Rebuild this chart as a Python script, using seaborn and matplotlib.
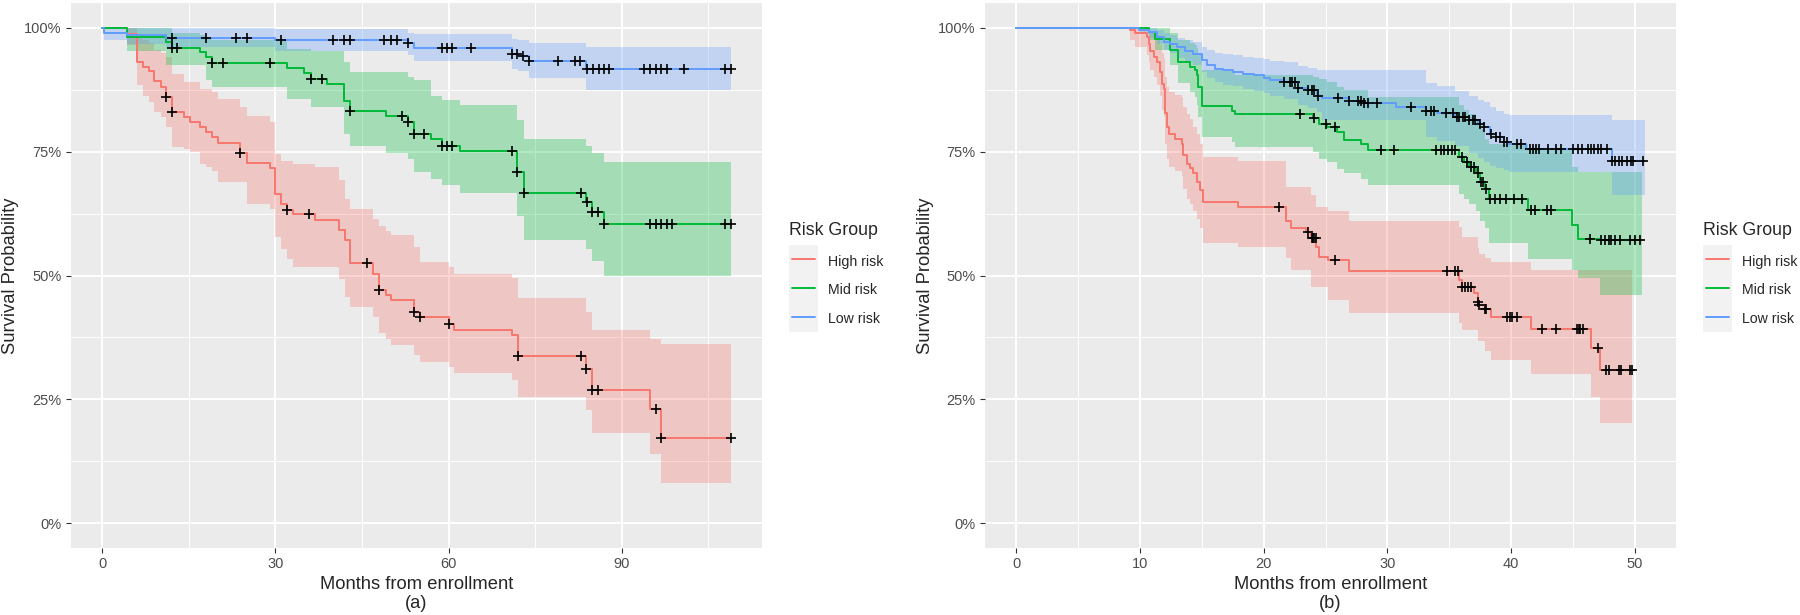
import numpy as np
import pandas as pd
import matplotlib
matplotlib.use("Agg")
import matplotlib.pyplot as plt
import seaborn as sns
from matplotlib.ticker import FixedLocator
from matplotlib.lines import Line2D
from matplotlib.patches import Rectangle

sns.set_theme(style="darkgrid")
plt.rcParams["font.family"] = ["Liberation Sans", "DejaVu Sans"]

groups = ["High risk", "Mid risk", "Low risk"]
colors = ["#F8766D", "#00BA38", "#619CFF"]
legend_title = "Risk Group"
y_label = "Survival Probability"
x_label = "Months from enrollment"
y_ticks = [0, 0.25, 0.5, 0.75, 1.0]
y_tick_labels = ["0%", "25%", "50%", "75%", "100%"]
y_minor = [0.125, 0.375, 0.625, 0.875]

# ---------------- Panel (a) ----------------
a_xticks = [0, 30, 60, 90]
a_xminor = [15, 45, 75, 105]
a_end = 108.9

a_high_t = [0, 4.2, 6.0, 7.05, 8.0, 9.0, 10.1, 11.0, 12.1, 14.1, 15.1, 17.0, 18.0, 19.0, 20.05, 23.9, 25.1, 29.0, 30.0, 31.0,
            32.0, 33.1, 36.9, 41.0, 42.0, 43.0, 46.9, 47.9, 49.1, 50.1, 54.0, 55.0, 60.0, 61.0, 71.0, 72.0, 83.9, 84.9, 94.9, 96.9]
a_high_s = [1.0, 0.988, 0.931, 0.920, 0.912, 0.892, 0.880, 0.860, 0.830, 0.820, 0.809, 0.799, 0.789, 0.779, 0.768, 0.747, 0.727, 0.717, 0.665, 0.645,
            0.633, 0.625, 0.612, 0.591, 0.571, 0.526, 0.503, 0.471, 0.460, 0.450, 0.426, 0.416, 0.402, 0.391, 0.379, 0.338, 0.312, 0.268, 0.230, 0.172]
a_high_lo = [1.0, 0.965, 0.884, 0.863, 0.850, 0.830, 0.820, 0.800, 0.759, 0.755, 0.749, 0.725, 0.720, 0.710, 0.688, 0.688, 0.645, 0.635, 0.577, 0.554,
             0.534, 0.517, 0.517, 0.493, 0.457, 0.436, 0.416, 0.383, 0.371, 0.359, 0.339, 0.326, 0.315, 0.303, 0.290, 0.254, 0.228, 0.182, 0.140, 0.081]
a_high_hi = [1.0, 1.0, 0.980, 0.975, 0.970, 0.955, 0.950, 0.941, 0.907, 0.890, 0.890, 0.877, 0.877, 0.870, 0.857, 0.840, 0.821, 0.810, 0.746, 0.732,
             0.732, 0.725, 0.719, 0.692, 0.655, 0.635, 0.614, 0.600, 0.590, 0.581, 0.557, 0.527, 0.517, 0.503, 0.495, 0.454, 0.426, 0.390, 0.372, 0.362]
a_high_cens = [11.0, 12.1, 23.9, 32.0, 35.9, 45.9, 47.9, 54.0, 55.0, 60.0, 72.0, 82.9, 83.9, 84.9, 85.9, 95.9, 96.9, 108.9]

a_mid_t = [0, 4.2, 11.0, 12.1, 17.0, 18.0, 19.0, 32.0, 35.0, 36.1, 39.0, 41.8, 42.9, 49.1, 52.9, 54.0, 56.9, 58.9, 62.0, 71.9, 73.0, 83.8, 84.9, 86.9]
a_mid_s = [1.0, 0.981, 0.971, 0.960, 0.951, 0.942, 0.929, 0.918, 0.908, 0.897, 0.887, 0.853, 0.832, 0.821, 0.809, 0.786, 0.776, 0.762, 0.751, 0.709, 0.666, 0.648, 0.628, 0.603]
a_mid_lo = [1.0, 0.953, 0.924, 0.924, 0.924, 0.894, 0.880, 0.857, 0.857, 0.840, 0.840, 0.786, 0.761, 0.748, 0.735, 0.709, 0.695, 0.682, 0.666, 0.621, 0.572, 0.554, 0.530, 0.499]
a_mid_hi = [1.0, 1.0, 1.0, 0.990, 0.985, 0.980, 0.975, 0.958, 0.958, 0.953, 0.953, 0.930, 0.910, 0.910, 0.900, 0.894, 0.863, 0.855, 0.845, 0.813, 0.776, 0.762, 0.747, 0.730]
a_mid_cens = [12.1, 12.9, 19.0, 20.9, 29.0, 36.1, 38.1, 42.9, 52.0, 52.9, 54.0, 55.8, 58.9, 59.8, 60.6, 71.0, 71.9, 73.0, 82.9, 84.0,
              84.9, 85.9, 86.9, 94.9, 95.9, 96.9, 97.8, 98.8, 108.0, 108.9]

a_low_t = [0, 0.3, 4.2, 11.0, 30.0, 52.9, 54.0, 71.0, 72.1, 73.9, 83.8]
a_low_s = [1.0, 0.990, 0.986, 0.980, 0.975, 0.969, 0.960, 0.947, 0.943, 0.933, 0.916]
a_low_lo = [1.0, 0.975, 0.968, 0.962, 0.954, 0.945, 0.932, 0.917, 0.912, 0.898, 0.875]
a_low_hi = [1.0, 1.0, 1.0, 1.0, 0.997, 0.990, 0.988, 0.978, 0.975, 0.970, 0.961]
a_low_cens = [12.1, 18.0, 23.1, 25.0, 31.0, 39.9, 41.8, 42.9, 48.9, 50.0, 51.0, 52.9, 58.9, 59.8, 60.6, 63.9, 71.0, 71.9, 72.9, 73.9,
              79.0, 81.9, 82.8, 84.0, 85.1, 86.1, 86.9, 87.8, 93.9, 94.9, 95.9, 96.9, 97.8, 100.9, 108.0, 108.9]

# ---------------- Panel (b) ----------------
b_xticks = [0, 10, 20, 30, 40, 50]
b_xminor = [5, 15, 25, 35, 45]
b_high_end = 49.8
b_mid_end = 50.6
b_low_end = 50.8

b_high_t = [0, 9.2, 9.6, 10.55, 10.7, 10.8, 11.1, 11.4, 11.6, 11.75, 11.9, 12.0, 12.2, 12.3, 12.8, 13.4, 13.5, 13.8, 14.05, 14.3, 14.6,
            14.85, 15.1, 17.9, 21.8, 22.2, 23.45, 23.85, 24.25, 24.5, 25.2, 26.9, 35.8, 36.0, 37.0, 37.3, 37.4, 37.9, 38.4, 41.6, 46.5, 47.2]
b_high_s = [1.0, 0.996, 0.990, 0.981, 0.968, 0.954, 0.941, 0.931, 0.911, 0.887, 0.877, 0.827, 0.800, 0.786, 0.776, 0.766, 0.743, 0.726, 0.716, 0.706, 0.689,
            0.672, 0.648, 0.638, 0.611, 0.595, 0.588, 0.575, 0.558, 0.538, 0.531, 0.509, 0.491, 0.477, 0.464, 0.447, 0.440, 0.433, 0.417, 0.393, 0.353, 0.309]
b_high_lo = [1.0, 0.975, 0.961, 0.945, 0.930, 0.915, 0.900, 0.885, 0.862, 0.835, 0.820, 0.765, 0.735, 0.720, 0.710, 0.700, 0.675, 0.655, 0.645, 0.630, 0.615,
             0.595, 0.565, 0.558, 0.535, 0.511, 0.511, 0.477, 0.477, 0.477, 0.450, 0.425, 0.405, 0.391, 0.391, 0.368, 0.368, 0.347, 0.329, 0.302, 0.254, 0.203]
b_high_hi = [1.0, 1.0, 1.0, 1.0, 0.995, 0.990, 0.985, 0.980, 0.965, 0.950, 0.940, 0.900, 0.880, 0.870, 0.865, 0.860, 0.840, 0.825, 0.815, 0.800, 0.785,
             0.765, 0.739, 0.731, 0.679, 0.679, 0.679, 0.662, 0.638, 0.638, 0.630, 0.611, 0.597, 0.577, 0.577, 0.555, 0.544, 0.535, 0.527, 0.511, 0.511, 0.511]
b_high_cens = [21.2, 23.6, 23.9, 24.0, 24.1, 24.2, 25.8, 34.8, 35.5, 35.7, 36.0, 36.3, 36.5, 36.8, 37.3, 37.4, 37.9, 38.0, 39.7, 39.9,
               40.1, 40.5, 42.5, 43.6, 45.3, 45.5, 45.6, 45.8, 47.0, 47.7, 47.9, 48.7, 48.9, 49.6, 49.8]

b_mid_t = [0, 10.7, 11.2, 12.4, 13.1, 14.05, 14.45, 14.6, 14.7, 15.0, 17.4, 17.7, 24.0, 24.5, 25.1, 25.9, 26.5, 27.9, 28.4, 35.8,
           36.2, 36.6, 37.2, 37.5, 37.9, 38.2, 41.4, 44.9, 45.4, 47.2]
b_mid_s = [1.0, 0.991, 0.977, 0.955, 0.931, 0.921, 0.914, 0.904, 0.880, 0.843, 0.833, 0.825, 0.817, 0.806, 0.800, 0.790, 0.774, 0.766, 0.753, 0.739,
           0.729, 0.720, 0.706, 0.689, 0.675, 0.655, 0.632, 0.601, 0.573, 0.571]
b_mid_lo = [1.0, 0.975, 0.955, 0.925, 0.888, 0.870, 0.860, 0.845, 0.820, 0.780, 0.770, 0.759, 0.750, 0.735, 0.730, 0.715, 0.706, 0.695, 0.682, 0.665,
            0.655, 0.645, 0.630, 0.610, 0.595, 0.565, 0.534, 0.511, 0.494, 0.460]
b_mid_hi = [1.0, 1.0, 1.0, 0.990, 0.975, 0.970, 0.965, 0.960, 0.945, 0.914, 0.910, 0.905, 0.900, 0.897, 0.890, 0.880, 0.874, 0.874, 0.860, 0.845,
            0.835, 0.825, 0.812, 0.795, 0.775, 0.766, 0.755, 0.720, 0.709, 0.709]
b_mid_cens = [22.9, 24.1, 25.0, 25.8, 29.5, 30.5, 33.9, 34.3, 34.6, 34.9, 35.2, 35.5, 36.0, 36.4, 36.8, 37.0, 37.3, 37.6, 37.7, 38.0,
              38.3, 38.7, 39.1, 39.6, 40.2, 40.9, 41.6, 41.9, 42.9, 43.2, 46.4, 47.3, 47.6, 47.9, 48.1, 48.4, 48.8, 49.6, 50.0, 50.4]

b_low_t = [0, 9.9, 10.7, 11.4, 11.9, 12.4, 13.0, 13.6, 14.3, 15.0, 15.4, 16.1, 16.7, 17.5, 18.3, 19.2, 20.0, 20.5, 21.6, 22.8,
           23.6, 24.3, 24.7, 26.9, 28.0, 30.7, 33.1, 34.0, 35.5, 36.6, 37.3, 37.8, 38.3, 38.8, 39.4, 39.8, 41.2, 48.2]
b_low_s = [1.0, 0.996, 0.991, 0.981, 0.971, 0.968, 0.961, 0.954, 0.948, 0.934, 0.924, 0.917, 0.914, 0.911, 0.907, 0.904, 0.899, 0.894, 0.890, 0.879,
           0.874, 0.863, 0.859, 0.853, 0.849, 0.840, 0.833, 0.827, 0.820, 0.813, 0.806, 0.800, 0.786, 0.779, 0.770, 0.765, 0.756, 0.732]
b_low_lo = [1.0, 0.988, 0.980, 0.968, 0.955, 0.950, 0.940, 0.930, 0.925, 0.910, 0.898, 0.890, 0.885, 0.882, 0.877, 0.873, 0.868, 0.862, 0.857, 0.845,
            0.838, 0.830, 0.813, 0.813, 0.813, 0.813, 0.780, 0.772, 0.762, 0.748, 0.738, 0.730, 0.722, 0.716, 0.712, 0.709, 0.709, 0.662]
b_low_hi = [1.0, 1.0, 1.0, 0.995, 0.990, 0.985, 0.980, 0.975, 0.972, 0.962, 0.955, 0.950, 0.948, 0.945, 0.942, 0.940, 0.937, 0.933, 0.930, 0.922,
            0.918, 0.915, 0.915, 0.915, 0.915, 0.915, 0.888, 0.882, 0.872, 0.862, 0.855, 0.850, 0.840, 0.833, 0.826, 0.823, 0.823, 0.813]
b_low_cens = [21.6, 22.1, 22.3, 22.5, 22.8, 23.6, 23.9, 24.1, 24.4, 26.0, 26.9, 27.6, 27.9, 28.1, 28.4, 29.2, 31.9, 33.1, 33.5, 33.8,
              34.7, 35.3, 35.6, 35.8, 36.1, 36.3, 36.6, 36.9, 37.1, 37.5, 37.8, 38.4, 38.8, 39.1, 39.4, 39.7, 40.5, 40.8, 41.5, 41.8,
              42.0, 42.3, 43.0, 43.6, 44.0, 45.0, 45.4, 45.7, 46.2, 46.5, 46.7, 47.0, 47.3, 47.8, 48.2, 48.4, 48.7, 49.0, 49.4, 49.7,
              49.9, 50.7]

panel_a = {
    "High risk": (a_high_t, a_high_s, a_high_lo, a_high_hi, a_high_cens, a_end),
    "Mid risk": (a_mid_t, a_mid_s, a_mid_lo, a_mid_hi, a_mid_cens, a_end),
    "Low risk": (a_low_t, a_low_s, a_low_lo, a_low_hi, a_low_cens, a_end),
}
panel_b = {
    "High risk": (b_high_t, b_high_s, b_high_lo, b_high_hi, b_high_cens, b_high_end),
    "Mid risk": (b_mid_t, b_mid_s, b_mid_lo, b_mid_hi, b_mid_cens, b_mid_end),
    "Low risk": (b_low_t, b_low_s, b_low_lo, b_low_hi, b_low_cens, b_low_end),
}

W, H = 1800, 615
fig = plt.figure(figsize=(W / 100, H / 100), dpi=100)
fig.patch.set_facecolor("white")


def px_axes(l, t, r, b):
    return fig.add_axes([l / W, 1 - b / H, (r - l) / W, (b - t) / H])


def draw_panel(ax, curves, xticks, xminor):
    line_rows, cens_rows = [], []
    xmax = 0
    for g, c in zip(groups, colors):
        t, s, lo, hi, cens, tend = curves[g]
        t = np.asarray(t, float); s = np.asarray(s, float)
        te = np.append(t, tend)
        ax.fill_between(te, np.append(lo, lo[-1]), np.append(hi, hi[-1]), step="post",
                        color=c, alpha=0.3, lw=0, zorder=2)
        for ti, si in zip(te, np.append(s, s[-1])):
            line_rows.append((ti, si, g))
        idx = np.searchsorted(t, np.asarray(cens, float), side="right") - 1
        for ci, si in zip(cens, s[idx]):
            cens_rows.append((ci, si))
        xmax = max(xmax, tend)
    ldf = pd.DataFrame(line_rows, columns=["time", "surv", "group"])
    cdf = pd.DataFrame(cens_rows, columns=["time", "surv"])
    sns.lineplot(data=ldf, x="time", y="surv", hue="group", hue_order=groups, palette=colors,
                 estimator=None, sort=False, drawstyle="steps-post", legend=False,
                 lw=1.4, ax=ax, zorder=3)
    sns.scatterplot(data=cdf, x="time", y="surv", marker="+", color="black", s=60,
                    linewidth=1.2, ax=ax, zorder=4, legend=False)
    ax.set_xlim(-0.05 * xmax, 1.05 * xmax)
    ax.set_ylim(-0.05, 1.05)
    ax.set_facecolor("#EBEBEB")
    for sp in ax.spines.values():
        sp.set_visible(False)
    ax.xaxis.set_major_locator(FixedLocator(xticks))
    ax.xaxis.set_minor_locator(FixedLocator(xminor))
    ax.yaxis.set_major_locator(FixedLocator(y_ticks))
    ax.yaxis.set_minor_locator(FixedLocator(y_minor))
    ax.set_xticklabels([str(v) for v in xticks])
    ax.set_yticklabels(y_tick_labels)
    ax.grid(which="major", color="white", lw=1.4)
    ax.grid(which="minor", color="white", lw=0.7)
    ax.set_axisbelow(True)
    ax.tick_params(which="major", length=3.6, width=0.8, color="#333333",
                   labelcolor="#4D4D4D", labelsize=10.5, pad=3,
                   bottom=True, left=True)
    ax.tick_params(which="minor", length=0)
    ax.set_xlabel("")
    ax.set_ylabel("")


def draw_legend(x0):
    fig.text(x0 / W, 1 - 235 / H, legend_title, fontsize=12.8, ha="left", va="baseline")
    fig.add_artist(Rectangle((x0 / W, 1 - 331.7 / H), 29 / W, 86.7 / H, transform=fig.transFigure,
                             facecolor="#F2F2F2", edgecolor="none"))
    for i, (g, c) in enumerate(zip(groups, colors)):
        yc = 259.3 + i * 28.8
        fig.add_artist(Line2D([(x0 + 2.5) / W, (x0 + 26) / W], [1 - yc / H] * 2,
                              color=c, lw=1.4, transform=fig.transFigure))
        fig.text((x0 + 38.5) / W, 1 - (yc + 6.4) / H, g, fontsize=10.2, ha="left", va="baseline")


ax_a = px_axes(71, 3, 762, 548)
draw_panel(ax_a, panel_a, a_xticks, a_xminor)
ax_b = px_axes(985, 3, 1676, 548)
draw_panel(ax_b, panel_b, b_xticks, b_xminor)

for cx, lx, tag in [(416.5, 10.5, "(a)"), (1330.5, 925.5, "(b)")]:
    fig.text(lx / W, 1 - 275.5 / H, y_label, rotation=90, ha="center", va="center", fontsize=13.2)
    fig.text(cx / W, 1 - 589 / H, x_label, ha="center", va="baseline", fontsize=13.2)
    fig.text(cx / W, 1 - 608.3 / H, tag, ha="center", va="baseline", fontsize=13.2)

draw_legend(789.3)
draw_legend(1703.3)

fig.savefig("out.png", dpi=100, facecolor="white")
